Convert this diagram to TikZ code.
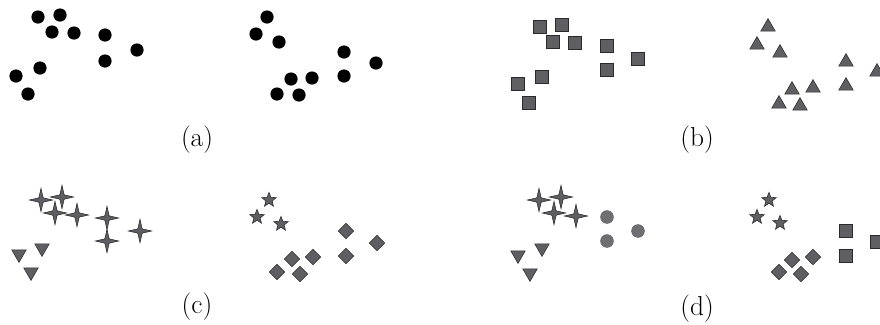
\documentclass[tikz,border=0pt]{standalone}
\usepackage{xcolor}
\usetikzlibrary{shapes.geometric}

\definecolor{markgray}{HTML}{5F5F63}
\definecolor{markedge}{HTML}{2A2A2A}

\begin{document}
\begin{tikzpicture}[x=0.025cm,y=-0.025cm,
  dot/.style={circle,fill=black,inner sep=0pt,minimum size=3.3mm},
  gdot/.style={circle,fill=markgray!90,draw=markgray,inner sep=0pt,minimum size=3.2mm},
  sq/.style={rectangle,fill=markgray,draw=markedge,thick,inner sep=0pt,minimum size=3.1mm},
  tri/.style={regular polygon,regular polygon sides=3,fill=markgray,draw=markedge,inner sep=0pt,minimum size=4.2mm},
  dtri/.style={tri,shape border rotate=180},
  fstar/.style={star,star points=4,star point ratio=3.8,fill=markgray,draw=markedge,inner sep=0pt,minimum size=5.8mm},
  pstar/.style={star,star points=5,star point ratio=2.3,fill=markgray,draw=markedge,inner sep=0pt,minimum size=3.8mm},
  dia/.style={diamond,fill=markgray,draw=markedge,inner sep=0pt,minimum size=3.9mm},
  lab/.style={font=\fontsize{19.5}{23}\selectfont}]
  \useasboundingbox (0,0) rectangle (880,324);
  % (a)
  \foreach \x/\y [count=\i] in {38/17,60/15,52/32,74/33,105/35,105/61,137/50,40/68,16/76,28/94}
    \node[dot] (aL\i) at (\x,\y) {};
  \foreach \x/\y [count=\i] in {267/17,256/34,279/42,344/52,344/76,376/63,291/79,312/78,277/94,299/95}
    \node[dot] (aR\i) at (\x,\y) {};
  \node[lab] (la) at (197,140) {(a)};
  % (b)
  \foreach \x/\y [count=\i] in {540/27,562/25,553/42,575/43,607/46,607/70,638/59,542/77,518/84,529/103}
    \node[sq] (bL\i) at (\x,\y) {};
  \foreach \x/\y [count=\i] in {768/27,757/45,780/53,846/62,846/86,877/72,792/90,813/88,779/104,800/106}
    \node[tri] (bR\i) at (\x,\y) {};
  \node[lab] (lb) at (697,140) {(b)};
  % (c)
  \foreach \x/\y [count=\i] in {41/200,62/197,55/213,77/215,107/218,107/241,140/231}
    \node[fstar] (cS\i) at (\x,\y) {};
  \foreach \x/\y [count=\i] in {19/254,42/248,31/272}
    \node[dtri] (cT\i) at (\x,\y) {};
  \foreach \x/\y [count=\i] in {269/200,257/217,281/224}
    \node[pstar] (cP\i) at (\x,\y) {};
  \foreach \x/\y [count=\i] in {346/231,346/256,377/243,292/259,313/257,277/272,300/274}
    \node[dia] (cD\i) at (\x,\y) {};
  \node[lab] (lc) at (197,307) {(c)};
  % (d)
  \foreach \x/\y [count=\i] in {539/200,561/197,554/213,576/216}
    \node[fstar] (dS\i) at (\x,\y) {};
  \foreach \x/\y [count=\i] in {607/217,607/241,638/231}
    \node[gdot] (dC\i) at (\x,\y) {};
  \foreach \x/\y [count=\i] in {518/255,542/248,530/273}
    \node[dtri] (dT\i) at (\x,\y) {};
  \foreach \x/\y [count=\i] in {769/200,757/217,780/223}
    \node[pstar] (dP\i) at (\x,\y) {};
  \foreach \x/\y [count=\i] in {846/231,846/256,877/242}
    \node[sq] (dQ\i) at (\x,\y) {};
  \foreach \x/\y [count=\i] in {792/260,813/257,779/272,801/274}
    \node[dia] (dD\i) at (\x,\y) {};
  \node[lab] (ld) at (697,309) {(d)};
\end{tikzpicture}
\end{document}
